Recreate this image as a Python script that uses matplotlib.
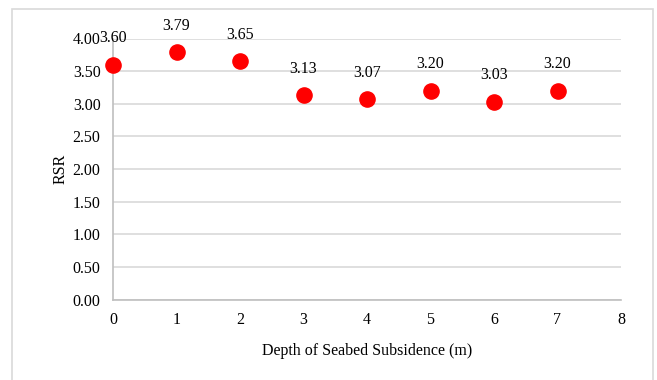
import matplotlib
matplotlib.use('Agg')
import matplotlib.pyplot as plt
from matplotlib.patches import Rectangle

# data
depth = [0, 1, 2, 3, 4, 5, 6, 7]
rsr = [3.60, 3.79, 3.65, 3.13, 3.07, 3.20, 3.03, 3.20]
x_ticks = [0, 1, 2, 3, 4, 5, 6, 7, 8]
y_ticks = [0.0, 0.5, 1.0, 1.5, 2.0, 2.5, 3.0, 3.5, 4.0]

plt.rcParams['font.family'] = ['Liberation Serif', 'DejaVu Serif']
fs = 11.5

fig = plt.figure(figsize=(6.57, 3.80), dpi=100)
ax = fig.add_axes([113 / 657, 1 - 299.5 / 380, 508 / 657, 261 / 380])

# outer chart border
fig.patches.append(Rectangle((12 / 657, -0.05), 641 / 657, 1.05 - 9.5 / 380,
                             transform=fig.transFigure, fill=False,
                             edgecolor='#d9d9d9', linewidth=1.2))

ax.scatter(depth, rsr, s=120, color='#ff0000', zorder=3, clip_on=False)
for x, y in zip(depth, rsr):
    ax.annotate(f'{y:.2f}', (x, y), xytext=(0, 19), textcoords='offset points',
                ha='center', va='center', fontsize=fs, color='#000000')

ax.set_xlim(0, 8)
ax.set_ylim(0, 4)
ax.set_xticks(x_ticks)
ax.set_yticks(y_ticks)
ax.set_yticklabels([f'{v:.2f}' for v in y_ticks])
ax.tick_params(axis='x', length=0, pad=9, labelsize=fs)
ax.tick_params(axis='y', length=0, pad=9, labelsize=fs)
ax.grid(axis='y', color='#d9d9d9', linewidth=1.2)
ax.set_axisbelow(True)

for side in ['top', 'right']:
    ax.spines[side].set_visible(False)
ax.spines['left'].set_color('#bfbfbf')
ax.spines['bottom'].set_color('#bfbfbf')
ax.spines['left'].set_linewidth(1.2)
ax.spines['bottom'].set_linewidth(1.2)

ax.set_xlabel('Depth of Seabed Subsidence (m)', fontsize=fs, labelpad=11)
ax.set_ylabel('RSR', fontsize=fs, labelpad=3)

plt.savefig('out.png', dpi=100)
plt.close()
